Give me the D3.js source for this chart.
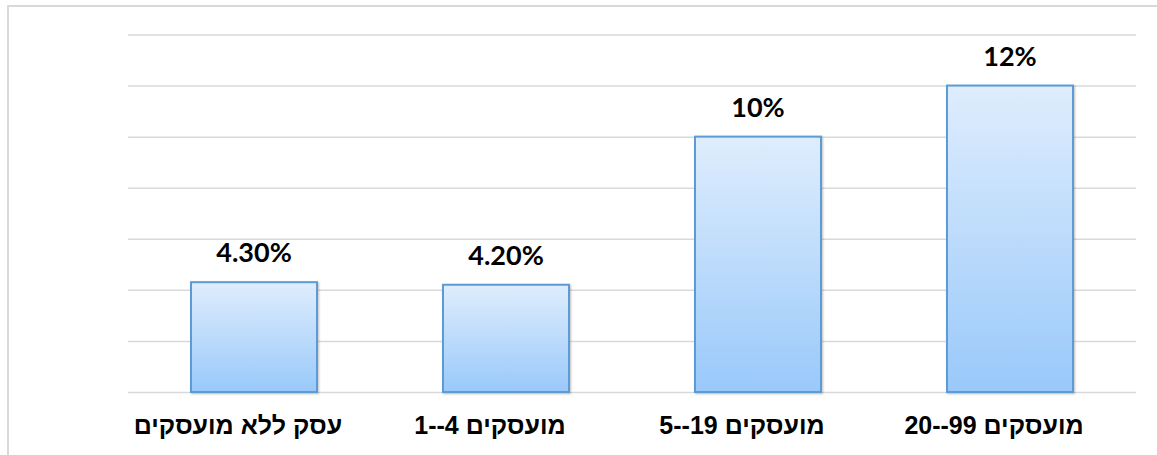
<!DOCTYPE html>
<html lang="he">
<head>
<meta charset="utf-8">
<script src="https://cdn.jsdelivr.net/npm/d3@7"></script>
<style>
  html, body { margin: 0; padding: 0; background: #ffffff; }
  svg { display: block; }
</style>
</head>
<body>
<svg id="chart" width="1157" height="455"></svg>
<script>
// Share of businesses by employee count
const categories = ["עסק ללא מועסקים", "1--4 מועסקים", "5--19 מועסקים", "20--99 מועסקים"];
const values = [4.3, 4.2, 10, 12];
const valueLabels = ["4.30%", "4.20%", "10%", "12%"];
const gridTicks = [0, 2, 4, 6, 8, 10, 12, 14];

const svg = d3.select("#chart");
const W = 1157, H = 455;

const plot = { left: 128, right: 1136, top: 34.5, bottom: 392 };

const x = d3.scaleBand()
  .domain(categories)
  .range([plot.left, plot.right])
  .paddingInner(0.5)
  .paddingOuter(0.25);

const y = d3.scaleLinear()
  .domain([0, 14])
  .range([plot.bottom, plot.top]);

const defs = svg.append("defs");
const grad = defs.append("linearGradient")
  .attr("id", "barFill")
  .attr("x1", 0).attr("y1", 0).attr("x2", 0).attr("y2", 1);
grad.append("stop").attr("offset", "0%").attr("stop-color", "#dfedfd");
grad.append("stop").attr("offset", "100%").attr("stop-color", "#99c9fa");

const shadow = defs.append("filter")
  .attr("id", "barShadow")
  .attr("x", "-10%").attr("y", "-10%").attr("width", "120%").attr("height", "120%");
shadow.append("feDropShadow")
  .attr("dx", 1).attr("dy", 1)
  .attr("stdDeviation", 1.2)
  .attr("flood-color", "#000000")
  .attr("flood-opacity", 0.25);

// outer frame (top and left edges)
svg.append("line")
  .attr("x1", 8).attr("x2", W).attr("y1", 6).attr("y2", 6)
  .attr("stroke", "#d9d9d9").attr("stroke-width", 2);
svg.append("line")
  .attr("x1", 8).attr("x2", 8).attr("y1", 5).attr("y2", H)
  .attr("stroke", "#d9d9d9").attr("stroke-width", 2);

// horizontal gridlines
const yAxis = d3.axisLeft(y)
  .tickValues(gridTicks)
  .tickSize(-(plot.right - plot.left))
  .tickFormat("");
const gy = svg.append("g")
  .attr("transform", `translate(${plot.left},0)`)
  .call(yAxis);
gy.select(".domain").remove();
gy.selectAll(".tick line")
  .attr("stroke", "#d9d9d9")
  .attr("stroke-width", 1.5);

// bars
svg.append("g")
  .selectAll("rect")
  .data(values)
  .join("rect")
  .attr("x", (d, i) => x(categories[i]))
  .attr("y", d => y(d))
  .attr("width", x.bandwidth())
  .attr("height", d => y(0) - y(d))
  .attr("fill", "url(#barFill)")
  .attr("stroke", "#5b9bd5")
  .attr("stroke-width", 2)
  .attr("filter", "url(#barShadow)");

// value labels
svg.append("g")
  .selectAll("text")
  .data(values)
  .join("text")
  .attr("x", (d, i) => x(categories[i]) + x.bandwidth() / 2)
  .attr("y", d => y(d) - 20)
  .attr("text-anchor", "middle")
  .attr("font-family", "Lato, 'Open Sans', sans-serif")
  .attr("font-weight", "bold")
  .attr("font-size", 27)
  .attr("fill", "#000000")
  .text((d, i) => valueLabels[i]);

// category labels
const xAxis = d3.axisBottom(x).tickSize(0).tickPadding(0);
const gx = svg.append("g")
  .attr("transform", `translate(0,${plot.bottom})`)
  .call(xAxis);
gx.select(".domain").remove();
gx.selectAll(".tick text")
  .attr("x", -16)
  .attr("y", 42)
  .attr("dy", 0)
  .attr("font-family", "'Liberation Sans', Arial, sans-serif")
  .attr("font-weight", "bold")
  .attr("font-size", 25)
  .attr("fill", "#000000");
</script>
</body>
</html>
